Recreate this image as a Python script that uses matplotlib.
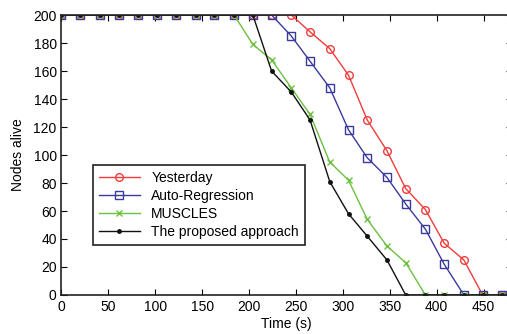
from matplotlib import pyplot as plt

plt.rcParams['font.family'] = ['Liberation Sans', 'DejaVu Sans']

# time points (s)
time = [0, 20, 41, 61, 82, 102, 122, 143, 163, 184, 204, 224,
        245, 265, 286, 306, 326, 347, 367, 388, 408, 429, 449, 470]

yesterday = [200]*13 + [188, 176, 157, 125, 103, 76, 61, 37, 25, 0, 0]
auto_reg = [200]*12 + [185, 167, 148, 118, 98, 84, 65, 47, 22, 0, 0, 0]
muscles = [200]*10 + [179, 168, 148, 129, 95, 82, 54, 35, 23, 0, 0, 0, 0, 0]
proposed = [200]*11 + [160, 145, 125, 81, 58, 42, 25, 0, 0, 0, 0, 0, 0]

fig = plt.figure(figsize=(5.07, 3.34), dpi=100)
ax = fig.add_axes([0.1213, 0.1168, 0.888, 0.8382])

ax.plot(time, yesterday, color='#f03c3c', marker='o', markersize=5.5,
        markerfacecolor='none', linewidth=1, label='Yesterday')
ax.plot(time, auto_reg, color='#3a3a9c', marker='s', markersize=5.5,
        markerfacecolor='none', linewidth=1, label='Auto-Regression')
ax.plot(time, muscles, color='#6cc040', marker='x', markersize=5,
        linewidth=1, label='MUSCLES')
ax.plot(time, proposed, color='#111111', marker='.', markersize=5,
        linewidth=1, label='The proposed approach')

ax.set_xlim(0, 480)
ax.set_ylim(0, 200)
ax.set_xticks(range(0, 451, 50))
ax.set_yticks(range(0, 201, 20))
ax.tick_params(direction='in', top=True, right=True, labelsize=10, length=4)
for s in ax.spines.values():
    s.set_linewidth(1.2)
    s.set_color('#222222')

ax.set_xlabel('Time (s)', fontsize=10, labelpad=2)
ax.set_ylabel('Nodes alive', fontsize=10, labelpad=6)

leg = ax.legend(loc='upper left', bbox_to_anchor=(0.07, 0.464), borderaxespad=0,
                fontsize=10, handlelength=3.0, labelspacing=0.3,
                fancybox=False, edgecolor='#222222', framealpha=1,
                borderpad=0.4)
leg.get_frame().set_linewidth(1.2)

fig.savefig('out.png', dpi=100)
